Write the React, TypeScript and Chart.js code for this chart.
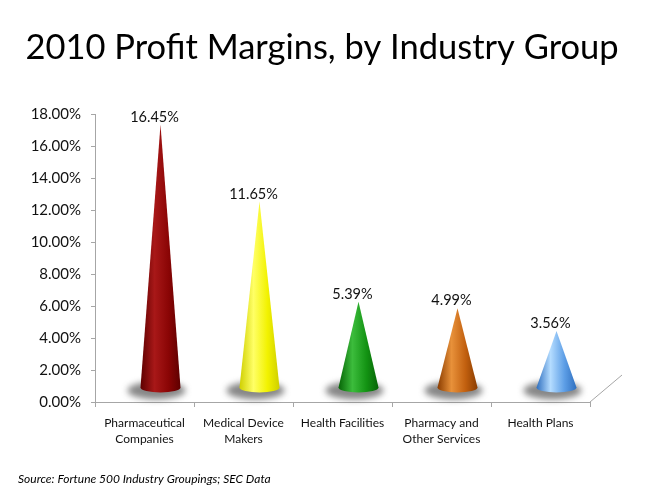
import React, { useEffect, useRef } from 'react';
import { Chart, registerables } from 'chart.js';

Chart.register(...registerables);

const categories: string[][] = [
  ['Pharmaceutical', 'Companies'],
  ['Medical Device', 'Makers'],
  ['Health Facilities'],
  ['Pharmacy and', 'Other Services'],
  ['Health Plans'],
];
const margins: number[] = [16.45, 11.65, 5.39, 4.99, 3.56];
// [edge, mid, highlight]
const coneColors: string[][] = [
  ['#5e0000', '#8a0505', '#a81818'],
  ['#cfcf00', '#f2f200', '#ffff66'],
  ['#066406', '#139313', '#3cbc3c'],
  ['#8a3c00', '#c2600f', '#e8913a'],
  ['#2f6fbf', '#5d9ee6', '#b4dcff'],
];
const titleText = '2010 Profit Margins, by Industry Group';
const sourceText = 'Source: Fortune 500 Industry Groupings; SEC Data';

const FONT = 'Lato, "Open Sans", sans-serif';
const AXIS = '#a6a6a6';
const DX = 16;
const DY = -14;

const conePlugin = {
  id: 'cones',
  afterDatasetsDraw(chart: any) {
    const ctx: CanvasRenderingContext2D = chart.ctx;
    const meta = chart.getDatasetMeta(0);
    const area = chart.chartArea;
    ctx.save();
    // title
    ctx.fillStyle = '#000';
    ctx.font = `34.5px ${FONT}`;
    ctx.textAlign = 'center';
    ctx.textBaseline = 'middle';
    ctx.fillText(titleText, 322, 48);
    // floor depth edge
    ctx.strokeStyle = AXIS;
    ctx.lineWidth = 1;
    ctx.beginPath();
    ctx.moveTo(area.right, area.bottom);
    ctx.lineTo(area.right + 32, area.bottom - 27);
    ctx.stroke();
    meta.data.forEach((el: any, i: number) => {
      const cx = el.x + DX;
      const top = el.y + DY;
      const baseY = el.base + DY;
      const hw = 20;
      const ry = 5;
      ctx.save();
      ctx.filter = 'blur(3px)';
      ctx.fillStyle = 'rgba(70,70,70,0.65)';
      ctx.beginPath();
      ctx.ellipse(cx - 4, baseY + 3, hw + 9, ry + 4, 0, 0, Math.PI * 2);
      ctx.fill();
      ctx.restore();
      const [dark, mid, light] = coneColors[i];
      const g = ctx.createLinearGradient(cx - hw, 0, cx + hw, 0);
      g.addColorStop(0, dark);
      g.addColorStop(0.35, light);
      g.addColorStop(0.7, mid);
      g.addColorStop(1, dark);
      ctx.fillStyle = g;
      ctx.beginPath();
      ctx.moveTo(cx, top);
      ctx.lineTo(cx + hw, baseY);
      ctx.ellipse(cx, baseY, hw, ry, 0, 0, Math.PI);
      ctx.closePath();
      ctx.fill();
      ctx.fillStyle = '#111';
      ctx.font = `14.5px ${FONT}`;
      ctx.textAlign = 'center';
      ctx.textBaseline = 'alphabetic';
      ctx.fillText(margins[i].toFixed(2) + '%', cx - 6, top - 3);
    });
    ctx.fillStyle = '#000';
    ctx.font = `italic 12px ${FONT}`;
    ctx.textAlign = 'left';
    ctx.textBaseline = 'middle';
    ctx.fillText(sourceText, 18, 479);
    ctx.restore();
  },
};

export default function App() {
  const ref = useRef<HTMLCanvasElement>(null);
  useEffect(() => {
    if (!ref.current) return;
    const chart = new Chart(ref.current, {
      type: 'bar',
      data: {
        labels: categories,
        datasets: [
          {
            data: margins,
            backgroundColor: 'rgba(0,0,0,0)',
            borderWidth: 0,
          },
        ],
      },
      options: {
        responsive: false,
        animation: false,
        layout: { padding: { left: 8, right: 66, top: 114, bottom: 0 } },
        plugins: {
          legend: { display: false },
          tooltip: { enabled: false },
          title: { display: false },
        },
        scales: {
          x: {
            grid: { drawOnChartArea: false, drawTicks: true, tickLength: 5, color: AXIS, offset: true },
            border: { color: AXIS },
            ticks: {
              color: '#111',
              font: { family: FONT, size: 12, lineHeight: 1.35 },
              padding: 8,
              maxRotation: 0,
              autoSkip: false,
            },
            afterFit: (s: any) => {
              s.height = 90;
            },
          },
          y: {
            min: 0,
            max: 18,
            ticks: {
              stepSize: 2,
              color: '#111',
              font: { family: FONT, size: 15 },
              padding: 10,
              callback: (v: any) => Number(v).toFixed(2) + '%',
            },
            grid: { drawOnChartArea: false, tickLength: 4, color: AXIS },
            border: { color: AXIS },
            afterFit: (s: any) => {
              s.width = 87;
            },
          },
        },
      },
      plugins: [conePlugin],
    });
    return () => chart.destroy();
  }, []);
  return (
    <div style={{ position: 'fixed', left: 0, top: 0, width: 656, height: 492, background: '#fff' }}>
      <canvas ref={ref} width={656} height={492} style={{ display: 'block' }} />
    </div>
  );
}
